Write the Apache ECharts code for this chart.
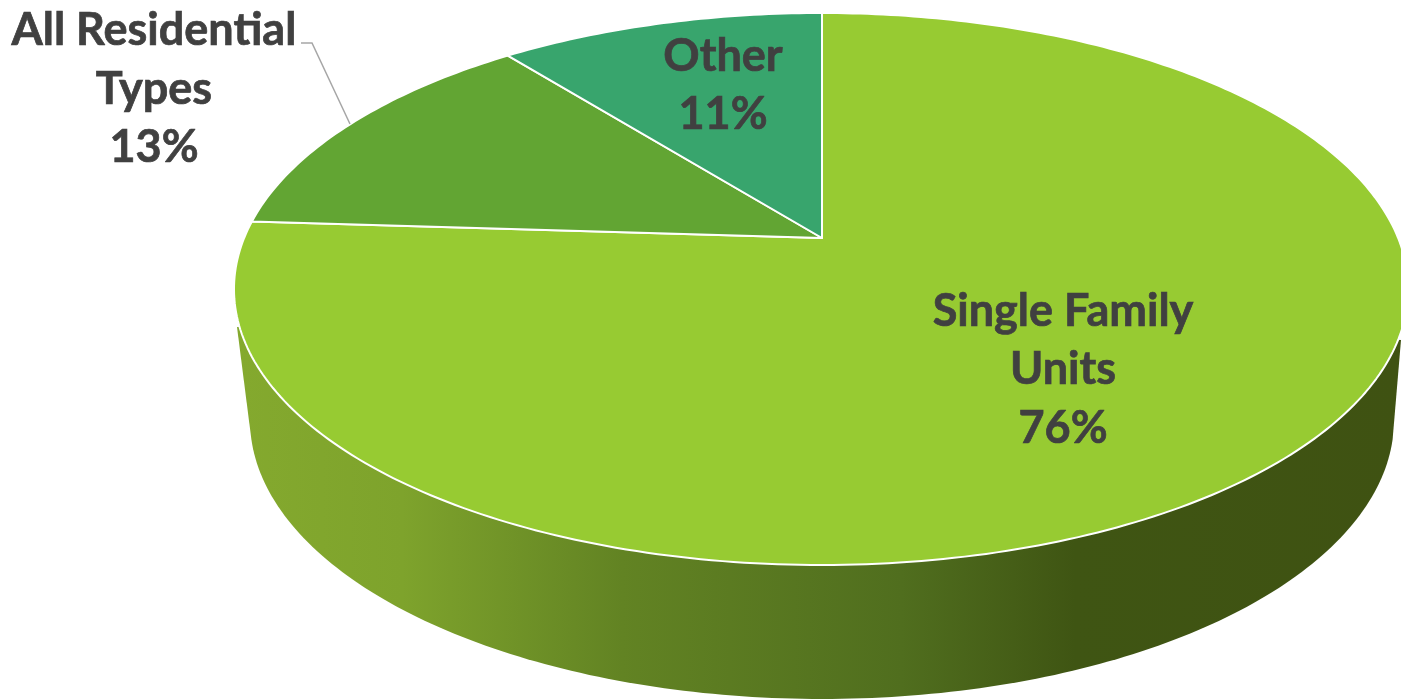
<!DOCTYPE html>
<html>
<head>
<meta charset="utf-8">
<style>html,body{margin:0;padding:0;background:#fff}#c{width:1401px;height:699px}</style>
<script src="https://cdn.jsdelivr.net/npm/echarts@6/dist/echarts.min.js"></script>
</head>
<body>
<div id="c"></div>
<script>
// ---- data ----
const categories = ['Single Family\nUnits', 'All Residential\nTypes', 'Other'];
const values = [76, 13.3, 10.7];
const sliceColors = ['#97cb32', '#62a533', '#38a56d'];

// ---- layout: perspective disc, label anchors ----
const apex = {x: 822, y: 238}, rx = 577, ry = 266.6, tiltY = 0.1848, tiltX = 0.0015;
const labelAnchors = [{x: 1063, y: 369.5}, {x: 154, y: 89}, {x: 723, y: 85.5}];
const leaderLines = [null, [[301, 43], [312, 43], [350, 124]], null];
const base = {cx: 822, cy: 420, rx: 572, ry: 279};
const total = values.reduce((a, b) => a + b, 0);

function project(turn) {
  const t = turn * 2 * Math.PI, u = Math.sin(t), v = Math.cos(t);
  const d = 1 + tiltY * v + tiltX * u;
  return [apex.x + rx * u / d, apex.y - ry * v / d];
}
function sectorPoints(from, to) {
  const pts = [[apex.x, apex.y]];
  const n = Math.max(8, Math.ceil((to - from) * 400));
  for (let i = 0; i <= n; i++) pts.push(project(from + (to - from) * i / n));
  return pts;
}
function wallPoints() {
  const pts = [[237, 327]];
  for (let i = 4; i <= 176; i++) {
    const t = Math.PI - i * Math.PI / 180;
    pts.push([base.cx + base.rx * Math.cos(t), base.cy + base.ry * Math.sin(t)]);
  }
  pts.push([1401, 340], [822, 300]);
  return pts;
}
function textStyle(text, pos) {
  return {
    type: 'text', z2: 20,
    style: {
      text, x: pos.x, y: pos.y, align: 'center', verticalAlign: 'middle',
      fill: '#404040', stroke: '#404040', lineWidth: 0.7,
      fontFamily: 'Lato', fontWeight: 'bold', fontSize: 45, lineHeight: 58.5
    }
  };
}

const chart = echarts.init(document.getElementById('c'), null, {renderer: 'canvas'});
chart.setOption({
  animation: false,
  backgroundColor: '#ffffff',
  series: [
    {
      type: 'custom', coordinateSystem: 'none', silent: true, z: 1,
      data: [0],
      renderItem: () => ({
        type: 'polygon',
        shape: {points: wallPoints()},
        style: {
          fill: new echarts.graphic.LinearGradient(240, 0, 1400, 0, [
            {offset: 0, color: '#84a92e'},
            {offset: 0.14, color: '#7ea32c'},
            {offset: 0.33, color: '#628323'},
            {offset: 0.57, color: '#506e1e'},
            {offset: 0.72, color: '#3f5513'},
            {offset: 1, color: '#3f5212'}
          ], true)
        }
      })
    },
    {
      type: 'custom', coordinateSystem: 'none', silent: true, z: 2,
      data: values.map((v, i) => [v, i]),
      renderItem: (params, api) => {
        const i = api.value(1);
        const before = values.slice(0, i).reduce((a, b) => a + b, 0);
        const from = before / total, to = (before + api.value(0)) / total;
        return {
          type: 'polygon',
          shape: {points: sectorPoints(from, to)},
          style: {fill: sliceColors[i], stroke: '#ffffff', lineWidth: 2, lineJoin: 'round'}
        };
      }
    },
    {
      type: 'custom', coordinateSystem: 'none', silent: true, z: 3,
      data: values.map((v, i) => [v, i]),
      renderItem: (params, api) => {
        const i = api.value(1);
        const children = [textStyle(categories[i] + '\n' + Math.round(api.value(0)) + '%', labelAnchors[i])];
        if (leaderLines[i]) {
          children.push({
            type: 'polyline',
            shape: {points: leaderLines[i]},
            style: {fill: null, stroke: '#a6a6a6', lineWidth: 1.5}
          });
        }
        return {type: 'group', children};
      }
    }
  ]
});
</script>
</body>
</html>
